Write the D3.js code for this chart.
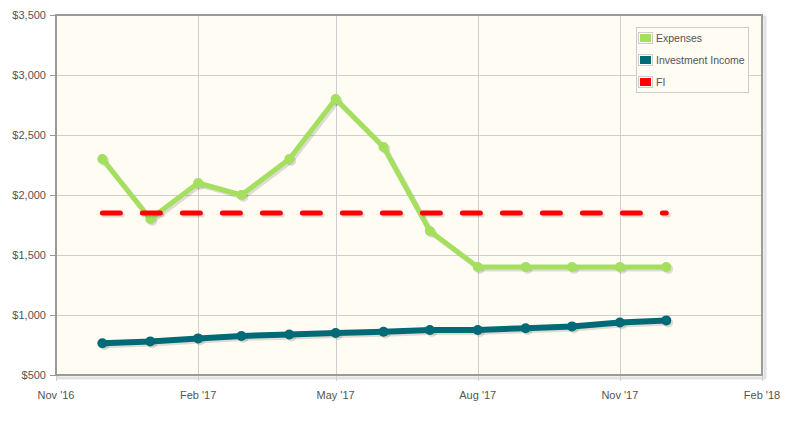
<!DOCTYPE html>
<html><head><meta charset="utf-8">
<script src="https://cdn.jsdelivr.net/npm/d3@7"></script>
<style>
html,body{margin:0;padding:0;background:#fff;}
svg{display:block;font-family:"Liberation Sans",Arial,sans-serif;}
</style></head>
<body><svg id="c" width="787" height="425"></svg>
<script>
const months = ["2016-12-01","2017-01-01","2017-02-01","2017-03-01","2017-04-01","2017-05-01","2017-06-01","2017-07-01","2017-08-01","2017-09-01","2017-10-01","2017-11-01","2017-12-01"];
const expenses = [2300,1800,2100,2000,2300,2800,2400,1700,1400,1400,1400,1400,1400];
const investmentIncome = [765,780,805,825,838,850,860,875,875,890,905,938,955];
const fi = [1850,1850,1850,1850,1850,1850,1850,1850,1850,1850,1850,1850,1850];
const xTickDates = ["2016-11-01","2017-02-01","2017-05-01","2017-08-01","2017-11-01","2018-02-01"];
const xTickLabels = ["Nov '16","Feb '17","May '17","Aug '17","Nov '17","Feb '18"];
const yTicks = [500,1000,1500,2000,2500,3000,3500];
const yTickLabels = ["$500","$1,000","$1,500","$2,000","$2,500","$3,000","$3,500"];
const seriesNames = ["Expenses","Investment Income","FI"];
const seriesColors = ["#a5df5e","#006b76","#ff0000"];

const P = d3.utcParse("%Y-%m-%d");
const svg = d3.select("#c");
const L=56, R=762, T=15, B=375;
const x = d3.scaleUtc().domain([P(xTickDates[0]), P(xTickDates[xTickDates.length-1])]).range([L,R]);
const y = d3.scaleLinear().domain([500,3500]).range([B,T]);

// plot shadow
svg.append("rect").attr("x",L+2).attr("y",T+2).attr("width",R-L+1).attr("height",B-T+1)
  .attr("fill","none").attr("stroke","#e2e2e2").attr("stroke-width",3);
// background
svg.append("rect").attr("x",L).attr("y",T).attr("width",R-L).attr("height",B-T).attr("fill","#fffcf4");

// grid
const grid = svg.append("g");
grid.selectAll(".gy").data(yTicks.slice(1,-1)).join("line")
  .attr("x1",L).attr("x2",R).attr("y1",d=>y(d)+0.5).attr("y2",d=>y(d)+0.5)
  .attr("stroke","#cfcfcf").attr("stroke-width",1);
grid.selectAll(".gx").data(xTickDates.slice(1,-1)).join("line")
  .attr("x1",d=>Math.round(x(P(d)))+0.5).attr("x2",d=>Math.round(x(P(d)))+0.5).attr("y1",T).attr("y2",B+6)
  .attr("stroke","#cfcfcf").attr("stroke-width",1);
grid.selectAll(".gxe").data([xTickDates[0], xTickDates[xTickDates.length-1]]).join("line")
  .attr("x1",d=>Math.round(x(P(d)))+0.5).attr("x2",d=>Math.round(x(P(d)))+0.5).attr("y1",B).attr("y2",B+6)
  .attr("stroke","#cfcfcf").attr("stroke-width",1);
grid.selectAll(".ty").data(yTicks).join("line")
  .attr("x1",L-6).attr("x2",L).attr("y1",d=>y(d)+0.5).attr("y2",d=>y(d)+0.5)
  .attr("stroke","#9a9a9a").attr("stroke-width",1);

// border
svg.append("rect").attr("x",L).attr("y",T).attr("width",R-L).attr("height",B-T)
  .attr("fill","none").attr("stroke","#9a9a9a").attr("stroke-width",2);

// axis labels
svg.append("g").selectAll("text").data(yTicks).join("text")
  .attr("x",L-10).attr("y",d=>y(d)).attr("dy","0.35em").attr("text-anchor","end")
  .attr("font-size",11).attr("fill","#545454").text((d,i)=>yTickLabels[i]);
svg.append("g").selectAll("text").data(xTickDates).join("text")
  .attr("x",d=>x(P(d))).attr("y",B+20).attr("dy","0.35em").attr("text-anchor","middle")
  .attr("font-size",11).attr("fill","#545454").text((d,i)=>xTickLabels[i]);

const plot = svg.append("g");
const line = d3.line().x((d,i)=>x(P(months[i]))).y(d=>y(d));

function drawSeries(vals, color, width, r, dashed){
  const sh = plot.append("g").attr("transform","translate(2,2)");
  const p1 = sh.append("path").attr("d",line(vals)).attr("fill","none")
    .attr("stroke","rgba(0,0,0,0.13)").attr("stroke-width",width).attr("stroke-linejoin","round").attr("stroke-linecap","round");
  if(dashed) p1.attr("stroke-dasharray","18,22");
  if(r) sh.selectAll("circle").data(vals).join("circle")
    .attr("cx",(d,i)=>x(P(months[i]))).attr("cy",d=>y(d)).attr("r",r).attr("fill","rgba(0,0,0,0.12)");
  const p = plot.append("path").attr("d",line(vals)).attr("fill","none")
    .attr("stroke",color).attr("stroke-width",width).attr("stroke-linejoin","round").attr("stroke-linecap","round");
  if(dashed) p.attr("stroke-dasharray","18,22");
  if(r) plot.append("g").selectAll("circle").data(vals).join("circle")
    .attr("cx",(d,i)=>x(P(months[i]))).attr("cy",d=>y(d)).attr("r",r).attr("fill",color);
}
drawSeries(expenses, seriesColors[0], 5, 5, false);
drawSeries(investmentIncome, seriesColors[1], 6, 5, false);
drawSeries(fi, seriesColors[2], 5, 0, true);

// legend
const lg = svg.append("g");
lg.append("rect").attr("x",636.5).attr("y",27.5).attr("width",112).attr("height",65)
  .attr("fill","#fffcf4").attr("stroke","#cccccc").attr("stroke-width",1);
seriesNames.forEach((n,i)=>{
  const cy = 38 + i*22;
  lg.append("rect").attr("x",638.5).attr("y",cy-5.5).attr("width",14).attr("height",11)
    .attr("fill","#fff").attr("stroke","#cccccc");
  lg.append("rect").attr("x",640).attr("y",cy-4).attr("width",11).attr("height",8).attr("fill",seriesColors[i]);
  lg.append("text").attr("x",656).attr("y",cy).attr("dy","0.35em").attr("font-size",10.5)
    .attr("fill","#545454").text(n);
});
</script></body></html>
